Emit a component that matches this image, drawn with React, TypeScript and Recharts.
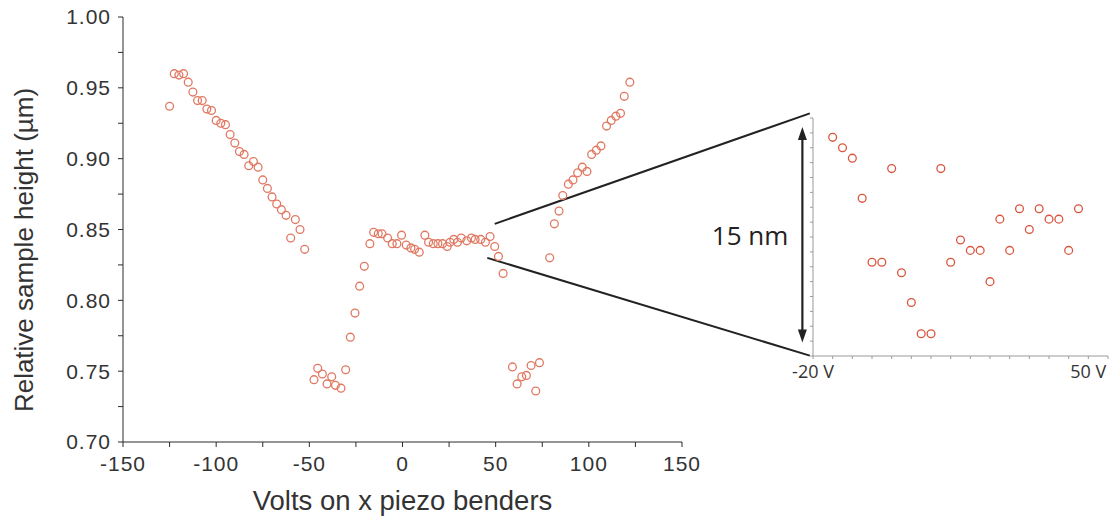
import { ReferenceLine, Scatter, ScatterChart, XAxis, YAxis } from "recharts";

// Full sweep: volts on the x benders vs. relative sample height (µm)
const sweepVolts = [
  -125, -122.5, -120, -117.5, -115, -112.5, -110, -107.5, -105, -102.5,
  -100, -97.5, -95, -92.5, -90, -87.5, -85, -82.5, -80, -77.5,
  -75, -72.5, -70, -67.5, -65, -62.5, -60, -57.5, -55, -52.5,
  -47.5, -45.5, -43, -40.5, -38, -36, -33, -30.5, -28, -25.5,
  -23, -20.5, -17.5, -15.5, -13, -11, -8, -5.5, -3, -0.5,
  2, 4.5, 6.5, 9, 12, 14, 16.5, 19, 21.5, 24,
  25.5, 27.5, 29.5, 31.5, 34.5, 37, 39, 42, 44.5, 47,
  49.5, 51.5, 54, 59, 61.5, 64, 66.5, 69, 71.5, 73.5,
  79, 81.5, 84, 86, 89, 91.5, 94, 96.5, 99, 101.5,
  104, 106.5, 109.5, 112, 114.5, 117, 119, 122,
];
const sweepHeight = [
  0.937, 0.96, 0.959, 0.96, 0.954, 0.947, 0.941, 0.941, 0.935, 0.934,
  0.927, 0.925, 0.924, 0.917, 0.911, 0.905, 0.903, 0.895, 0.898, 0.894,
  0.885, 0.879, 0.873, 0.868, 0.864, 0.86, 0.844, 0.857, 0.85, 0.836,
  0.744, 0.752, 0.748, 0.741, 0.746, 0.74, 0.738, 0.751, 0.774, 0.791,
  0.81, 0.824, 0.84, 0.848, 0.847, 0.847, 0.844, 0.84, 0.84, 0.846,
  0.839, 0.837, 0.836, 0.834, 0.846, 0.841, 0.84, 0.84, 0.84, 0.838,
  0.841, 0.843, 0.841, 0.844, 0.842, 0.844, 0.843, 0.843, 0.841, 0.845,
  0.838, 0.831, 0.819, 0.753, 0.741, 0.746, 0.747, 0.754, 0.736, 0.756,
  0.83, 0.854, 0.863, 0.874, 0.882, 0.885, 0.89, 0.894, 0.891, 0.903,
  0.906, 0.909, 0.923, 0.927, 0.93, 0.932, 0.944, 0.954,
];

// Close-up window, -20 V .. 50 V, height in nm
const zoomVolts = [
  -15, -12.5, -10, -7.5, -5, -2.5, 0, 2.5, 5, 7.5, 10, 12.5, 15,
  17.5, 20, 22.5, 25, 27.5, 30, 32.5, 35, 37.5, 40, 42.5, 45, 47.5,
];
const zoomHeight = [
  14.7, 14.0, 13.3, 10.6, 6.3, 6.3, 12.6, 5.6, 3.6, 1.5, 1.5, 12.6, 6.3,
  7.8, 7.1, 7.1, 5.0, 9.2, 7.1, 9.9, 8.5, 9.9, 9.2, 9.2, 7.1, 9.9,
];

const sweepTicksX = [-150, -125, -100, -75, -50, -25, 0, 25, 50, 75, 100, 125, 150];
const sweepTicksY = [0.7, 0.725, 0.75, 0.775, 0.8, 0.825, 0.85, 0.875, 0.9, 0.925, 0.95, 0.975, 1.0];
const zoomTicksX = [-20, -15, -10, -5, 0, 5, 10, 15, 20, 25, 30, 35, 40, 45, 50, 55];
const zoomTicksY = [0, 1, 2, 3, 4, 5, 6, 7, 8, 9, 10, 11, 12, 13, 14, 15, 16];
const zoomLabelled = [-20, 50];

// guide lines from the flat stretch out to the corners of the close-up
const guideTop = [{ x: 49.5, y: 0.854 }, { x: 218.6, y: 0.932 }];
const guideBottom = [{ x: 45.5, y: 0.83 }, { x: 218.6, y: 0.761 }];
// double arrow marking the close-up's height range (nm)
const spanMarker = [{ x: -22.7, y: 0.9 }, { x: -22.7, y: 15.4 }];

const sweep = sweepVolts.map((v, i) => ({ v, h: sweepHeight[i] }));
const zoom = zoomVolts.map((v, i) => ({ v, h: zoomHeight[i] }));

const AXIS = "#2b2b2b";
const SANS = "'Liberation Sans', Arial, sans-serif";
const OPEN = "'Open Sans', 'Noto Sans', sans-serif";

const ring = (stroke: string) => (p: any) => (
  <circle cx={p.cx} cy={p.cy} r={3.9} fill="none" stroke={stroke} strokeWidth={1.3} />
);

function SpanArrow(p: any) {
  const x = p.x1;
  const top = Math.min(p.y1, p.y2);
  const bottom = Math.max(p.y1, p.y2);
  return (
    <g>
      <line x1={x} y1={top + 8} x2={x} y2={bottom - 8} stroke="#222" strokeWidth={2.2} />
      <polygon points={`${x},${top} ${x - 4.5},${top + 13} ${x + 4.5},${top + 13}`} fill="#222" />
      <polygon points={`${x},${bottom} ${x - 4.5},${bottom - 13} ${x + 4.5},${bottom - 13}`} fill="#222" />
      <text
        x={x - 14}
        y={(top + bottom) / 2}
        textAnchor="end"
        dominantBaseline="central"
        fontSize={26}
        fontFamily={OPEN}
        fill="#222"
      >
        15 nm
      </text>
    </g>
  );
}

// rotated title, centred a little below the middle of the value axis
function YTitle() {
  return (
    <text
      x={24}
      y={250}
      transform="rotate(-90, 24, 250)"
      textAnchor="middle"
      dominantBaseline="central"
      fontSize={26}
      fontFamily={SANS}
      fill="#333"
    >
      Relative sample height (µm)
    </text>
  );
}

const tickStyle = { fill: "#333", fontSize: 21, fontFamily: SANS, letterSpacing: 1 };

export default function App() {
  return (
    <div style={{ position: "absolute", left: 0, top: 0, width: 1120, height: 518, background: "#fff" }}>
      <ScatterChart width={1120} height={518} margin={{ top: 17, right: 438, bottom: 0, left: 0 }}>
        <XAxis
          type="number"
          dataKey="v"
          domain={[-150, 150]}
          ticks={sweepTicksX}
          interval={0}
          allowDataOverflow
          stroke={AXIS}
          tickSize={5}
          tickMargin={9}
          height={76}
          tick={tickStyle}
          tickFormatter={(v: number) => (v % 50 === 0 ? String(v) : "")}
          label={{
            value: "Volts on x piezo benders",
            position: "insideBottom",
            offset: 8,
            fill: "#333",
            fontSize: 27.5,
            fontFamily: SANS,
          }}
        />
        <YAxis
          type="number"
          dataKey="h"
          domain={[0.7, 1.0]}
          ticks={sweepTicksY}
          interval={0}
          allowDataOverflow
          stroke={AXIS}
          tickSize={5}
          tickMargin={7}
          width={123}
          tick={tickStyle}
          tickFormatter={(v: number) => (Math.round(v * 1000) % 50 === 0 ? v.toFixed(2) : "")}
          label={<YTitle />}
        />
        <Scatter data={sweep} shape={ring("#e07862")} isAnimationActive={false} />
        <ReferenceLine segment={guideTop} ifOverflow="visible" stroke="#222" strokeWidth={2} />
        <ReferenceLine segment={guideBottom} ifOverflow="visible" stroke="#222" strokeWidth={2} />
      </ScatterChart>

      <div style={{ position: "absolute", left: 700, top: 90, width: 420, height: 300 }}>
        <ScatterChart width={420} height={300} margin={{ top: 28, right: 12, bottom: 4, left: 103 }}>
          <XAxis
            type="number"
            dataKey="v"
            domain={[-20, 55]}
            ticks={zoomTicksX}
            interval={0}
            allowDataOverflow
            stroke="#9a9a9a"
            tickSize={3}
            tickMargin={6}
            height={30}
            tick={{ fill: "#333", fontSize: 18, fontFamily: OPEN }}
            tickFormatter={(v: number) => (zoomLabelled.includes(v) ? `${v} V` : "")}
          />
          <YAxis
            type="number"
            dataKey="h"
            domain={[0, 16]}
            ticks={zoomTicksY}
            interval={0}
            allowDataOverflow
            stroke="#9a9a9a"
            tickSize={3}
            width={10}
            tickFormatter={() => ""}
          />
          <Scatter data={zoom} shape={ring("#d9543d")} isAnimationActive={false} />
          <ReferenceLine segment={spanMarker} ifOverflow="visible" shape={SpanArrow} />
        </ScatterChart>
      </div>
    </div>
  );
}
